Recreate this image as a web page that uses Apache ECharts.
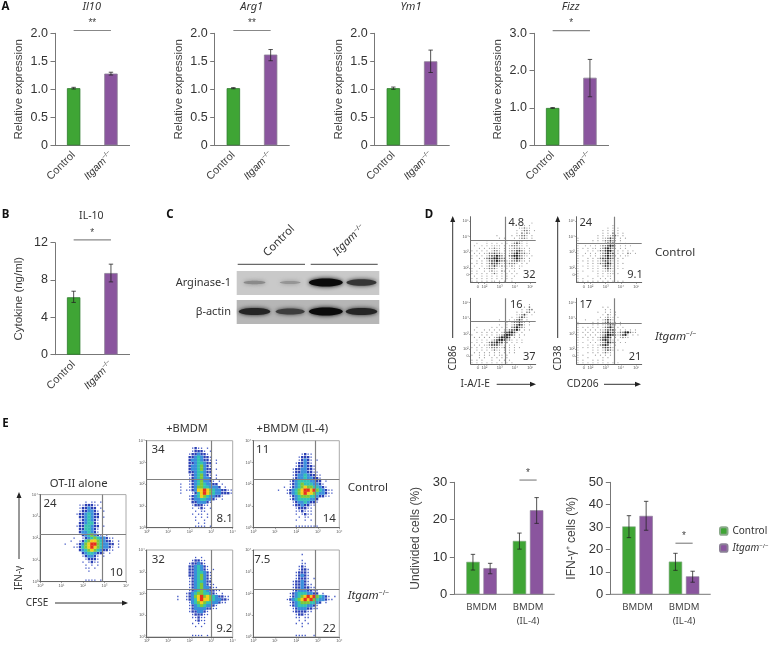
<!DOCTYPE html>
<html>
<head>
<meta charset="utf-8">
<style>
    html, body { margin: 0; padding: 0; background: #fff; }
    #main { width: 769px; height: 649px; }
</style>
<script src="https://cdn.jsdelivr.net/npm/echarts@6/dist/echarts.min.js"></script>
</head>
<body>
<div id="main"></div>
<script>
    // bar panels: value, low whisker, high whisker for Control / Itgam-/-
    var cats = ['Control', 'Itgam']
    var il10Values = [1.02, 1.28], il10Low = [1.005, 1.255], il10High = [1.035, 1.305]
    var arg1Values = [1.02, 1.62], arg1Low = [1.01, 1.51], arg1High = [1.03, 1.71]
    var ym1Values = [1.02, 1.5], ym1Low = [1.0, 1.3], ym1High = [1.04, 1.7]
    var fizzValues = [1.0, 1.81], fizzLow = [0.99, 1.3], fizzHigh = [1.01, 2.3]
    var il10CytValues = [6.15, 8.75], il10CytLow = [5.6, 7.8], il10CytHigh = [6.8, 9.7]

    var groupCats = ['BMDM', 'BMDM\n(IL-4)']
    var undivControl = [8.7, 14.3], undivControlLow = [6.5, 12.1], undivControlHigh = [10.7, 16.4]
    var undivItgam = [7.0, 22.5], undivItgamLow = [5.5, 19.0], undivItgamHigh = [8.3, 25.9]
    var ifnControl = [30.3, 14.6], ifnControlLow = [25.3, 10.7], ifnControlHigh = [35.1, 18.3]
    var ifnItgam = [35.0, 8.0], ifnItgamLow = [28.6, 5.4], ifnItgamHigh = [41.5, 10.3]

    // western blot band strength per lane
    var blotLanes = ['c1', 'c2', 'k1', 'k2']
    var arginaseLevels = [0.25, 0.18, 1, 0.75]
    var actinLevels = [0.85, 0.7, 1, 0.85]

    // panel D, dot density, one string per row from the top
    var cd86Control = ['', '', '........................1.', '...................1.1.1', '...................11211', '..................1.1221.1', '..................1.2121', '..........1.....1.11221.1',
        '...........1.1...1.1221.1', '......1.......1.11222.1', '..1...1.1.1.1.1.12321.1', '.1..1.1.1111.1.122211.1', '...1.1.11211.1.1122211.1', '1.1.1.1.1221.1.1223321.1', '.1.1.112232211.123432211', '1.1.1.12334321.23443211.1',
        '1..1.123344322.1234321.1', '..1.1.1233432211223211.1', '1.1.1.1233321112221.1.1', '.1..1.122321211121.11', '1..1.112221.1.1.11.1', '1.1..1.1211.21.1.1', '1.1.1.1.121.1.1.1.1', '.1..1.1.1.1.1.1..1', '1.1.1.1.1.1.1.1.1', '1.1.1.1.11.1.1..1']
    var cd38Control = ['', '', '', '..............1', '............1.1.1', '..........1.1.1.1', '..........1.1.2.1.1', '........1.1.11221.1',
        '1.......1.112321.1.1', '1.....1.1.122321.1', '1.....1.1.123331.1.1', '1..1.1.1.1223431.1.1.1', '1.1.1.11.1234321.1.1', '1...1.1.1223442.1.1.1.1', '1..1.1.1.123433.1.1.21.1', '1.1..1.1.1234321.1.11',
        '1...1.1.1233432.1.1', '1.1.1.1.1123321.1', '1...1.1.1223431.1.1', '1.1.1.1.1.23321.1', '1...1.1.1.12321.1.1', '1.1...1.1.11211', '1.......1.1.111.1', '1...1...1.1.11', '1.1...1..1.1.1', '1.1.1.1.1.1.1.1.1.1']
    var cd86Itgam = ['', '', '.......................1', '.....................1.2', '....................1.122', '..................1.1.22.1', '..................11231.1', '................1.12321',
        '...........1...1.1232.1', '..............1.122321.1', '...........1..1.123431.1', '..1.....1.1.1.1.234321', '.1...1.1.1.1.1123342.1.1', '..1.1.1.1.1.1234431.1', '1...1.1.1.11234432.1.1', '.1.1.1.1.1234443.1.1',
        '..1.1.1.123443221.1.1', '1.1.1.123343312.1.1.1', '.1.1.112333211.1.1', '1.1.1.11222112.1.1.1', '..1.1.1.1211.1.1.1', '.1.1.1.1.1.1.1.1.1', '1..1.1.1.1.11.1', '...1.1..1.1.1.1', '1.1.1...1..1.1.1', '1.1.1.1.1.1.1.1.1']
    var cd38Itgam = ['', '', '', '..........1.1', '...........1.1', '........1..1.1.1', '..........1.21.1', '.........1.1211.1',
        '...1....1.12321', '1.....1.1.123211.1', '1.....1.1.112321.1', '1.1.1.1.1.12342.1.1', '1..1.1.1.1123331.1.1.1.1', '1.1.1.1.1123433112244211', '1..1.1.1.123443212341.1.1', '1.1.1.1.123443.1.1211',
        '1...1.1.1234321.1', '1.1..1.1.1234321.1.1', '1...1.1.123431.1', '1.1.1.1.1.23321', '1.....1.1.12321.1.1', '1...1.1.1.1211', '1.1....1.1.1.1', '1...1.....1.1', '1.1...1.1.1', '1.1.1.1.1.1.1.1.1']

    // panel E, pseudocolor level, one string per row from the top
    var otAlone = ['', '', '...............1.11.1', '.............1122211', '.............122322.1', '.............1223321.1', '............12234322', '.............2234322.1',
        '.............1234321', '.............2234421', '............12244322.1', '.............2244321', '.............2334321', '..............2345321.1', '...........1..12345433211', '..........1..124566543221.1',
        '........1...1235677543322.1', '...........11245676543321.1', '.............234565432211', '..............23443221.1', '..............123321.1', '...............12221', '..............1.1211', '...............1.1.1',
        '...............11.1', '................1', '', '', '...............1111.1']
    var bmdmControl = ['', '', '...............1211.1', '...............12221.1', '..............1223221', '..............22343221', '..............23343221.1', '..............22344322.1',
        '..............23345321', '..............23345322.1', '..............22344322', '..............12345321.1', '..............12345332.1', '..............123453321.1', '...........1..1234543322.1', '...........1..12355443332.1',
        '...........1.1123667654332211', '...........1...12467654332221', '..............123465433221', '..............1233443321.1', '...............2233321', '...............122211', '...............1.121.1', '................1.11',
        '...............1.11.1', '................1.1.1', '................1..1', '.................1.1', '................1111.1']
    var il4Control = ['', '', '', '', '................1211', '...............12221', '...............12321.1', '..............122321',
        '..............1223221', '.............12233221', '.............122332211', '.............1233432211', '.............1233433221', '............12344443322.1', '............123454443321', '..........1.1234565544321',
        '........1..1234567767543211', '...........1234567665433211', '............12345554432211', '............1234444332', '.............123343221', '.............12232211', '..............122211', '..............112111',
        '..............1.1211', '...............1.11', '..............1..1.1', '', '..............11111111']
    var bmdmItgam = ['', '', '................1.1', '...............12211', '..............122321', '..............2234321', '..............2234321.1', '..............22344321',
        '..............22345321', '..............12345321', '..............12344322', '..............123453211', '..............1234533211', '..............12345432211', '.............12345544321.1', '..........1..123567565432211',
        '..........1..123467665433221', '..............1345654433211', '..............1234543321', '..............1233332211', '..............1223321', '...............122211', '...............11211', '................1211',
        '...............1.1.1', '................1.1', '', '', '...............1111.1']
    var il4Itgam = ['', '................1', '', '................1', '................11', '...............121', '...............1221', '..............12221',
        '..............12321', '..............12221.1', '.............122321', '.............1223211', '.............12232211', '.............123332211', '............1234443322.1', '............12345676754321.1',
        '...........1234567675433211', '............12345554432.1', '............1234443321', '.............123332211', '.............1222211', '..............12211', '..............11.11', '...............1.1',
        '..............1.1.1', '................1', '', '', '..............1111..1']

    var green = '#3fa535'
    var purple = '#8a559e'
    var axisColor = '#777'
    var chartFont = '"Liberation Sans", Arial, sans-serif'
    var noteFont = '"Noto Sans", sans-serif'

    var grids = [], xAxes = [], yAxes = [], seriesList = [], elements = []

    function itgamRich (size, font) {
        return {
            i: {fontStyle: 'italic', fontSize: size, fontFamily: font || noteFont, fill: '#333', color: '#333'},
            s: {fontSize: size * 0.6, fontFamily: font || noteFont, verticalAlign: 'top', fill: '#333', color: '#333'}
        }
    }

    function errorItem (dodge) {
        return function (params, api) {
            var x = api.value(0)
            var lo = api.coord([x, api.value(1)])
            var hi = api.coord([x, api.value(2)])
            var cx = lo[0] + dodge
            var stroke = {stroke: 'rgba(35,35,35,0.78)', lineWidth: 1}
            return {
                type: 'group',
                children: [
                    {type: 'line', shape: {x1: cx, y1: lo[1], x2: cx, y2: hi[1]}, style: stroke},
                    {type: 'line', shape: {x1: cx - 2.2, y1: lo[1], x2: cx + 2.2, y2: lo[1]}, style: stroke},
                    {type: 'line', shape: {x1: cx - 2.2, y1: hi[1], x2: cx + 2.2, y2: hi[1]}, style: stroke}
                ]
            }
        }
    }

    function sigItem (dodgeA, dodgeB, stars) {
        return function (params, api) {
            var a = api.coord([api.value(0), api.value(2)])
            var b = api.coord([api.value(1), api.value(2)])
            return {
                type: 'group',
                children: [
                    {type: 'line', shape: {x1: a[0] + dodgeA, y1: a[1], x2: b[0] + dodgeB, y2: a[1]}, style: {stroke: '#888', lineWidth: 1.2}},
                    {type: 'text', x: (a[0] + dodgeA + b[0] + dodgeB) / 2, y: a[1] - 7, style: {text: stars, textAlign: 'center', textVerticalAlign: 'middle', font: '10px ' + chartFont, fill: '#444'}}
                ]
            }
        }
    }

    function addCustom (idx, renderItem, data, enc) {
        seriesList.push({
            type: 'custom', xAxisIndex: idx, yAxisIndex: idx, renderItem: renderItem, data: data, encode: enc, silent: true, z: 5
        })
    }

    function whiskers (low, high) {
        return low.map(function (v, i) { return [i, v, high[i]] })
    }

    function addAxes (o) {
        var idx = grids.length
        grids.push({left: o.left, top: o.top, width: o.width, height: o.height})
        xAxes.push({
            type: 'category', gridIndex: idx, data: o.cats,
            axisLine: {show: o.xLine !== false, lineStyle: {color: axisColor, width: 1}},
            axisTick: {alignWithLabel: true, length: 2.5, lineStyle: {color: axisColor}},
            axisLabel: o.xLabel
        })
        yAxes.push({
            type: 'value', gridIndex: idx, min: 0, max: o.max, interval: o.interval, offset: o.offset || 0,
            name: o.name, nameLocation: 'middle', nameGap: o.nameGap,
            nameTextStyle: {fontFamily: chartFont, fontSize: o.nameSize, color: '#444'},
            splitLine: {show: false},
            axisLine: {show: true, lineStyle: {color: axisColor, width: 1}},
            axisTick: {show: true, length: 4.5, lineStyle: {color: axisColor}},
            axisLabel: {fontFamily: chartFont, fontSize: o.tickSize, color: '#333', margin: 7, formatter: o.tickFormat}
        })
        return idx
    }

    // one expression panel, Control next to Itgam-/-
    function addPairPanel (o) {
        var idx = addAxes({
            left: o.left, top: o.top, width: 74.6, height: 112, cats: cats, max: o.max, interval: o.interval,
            name: o.name, nameGap: 30, nameSize: 11.5, tickSize: 12.5, tickFormat: o.tickFormat,
            xLabel: {
                rotate: 45, margin: 8, interval: 0, fontFamily: chartFont, fontSize: 11, color: '#444',
                formatter: function (v) { return v === 'Itgam' ? '{i|Itgam}{s|\u2212/\u2212}' : v },
                rich: itgamRich(10.5, chartFont)
            }
        })
        seriesList.push({
            type: 'bar', xAxisIndex: idx, yAxisIndex: idx, barWidth: 13.4, silent: true,
            data: [
                {value: o.values[0], itemStyle: {color: green, borderColor: '#2b7b2b', borderWidth: 0.8}},
                {value: o.values[1], itemStyle: {color: purple, borderColor: '#8b8096', borderWidth: 0.8}}
            ]
        })
        addCustom(idx, errorItem(0), whiskers(o.low, o.high), {x: 0, y: [1, 2]})
        addCustom(idx, sigItem(0, 0, o.stars), [[0, 1, o.sigAt]], {x: [0, 1], y: 2})
    }

    function addGroupPanel (o) {
        var idx = addAxes({
            left: o.left, top: 482.3, width: 93, height: 112, cats: groupCats, max: o.max, interval: o.interval,
            name: o.name, nameGap: o.nameGap, nameSize: 12, tickSize: 13, offset: 4, xLine: false,
            xLabel: {interval: 0, margin: 6, fontFamily: noteFont, fontSize: 9.6, color: '#444', lineHeight: 14}
        })
        seriesList.push({
            type: 'bar', name: 'Control', xAxisIndex: idx, yAxisIndex: idx, barWidth: 13.4, barGap: '28%', silent: true,
            itemStyle: {color: green, borderColor: '#8aa98a', borderWidth: 0.6}, data: o.control
        })
        seriesList.push({
            type: 'bar', name: 'Itgam', xAxisIndex: idx, yAxisIndex: idx, barWidth: 13.4, barGap: '28%', silent: true,
            itemStyle: {color: purple, borderColor: '#8b8096', borderWidth: 0.6}, data: o.itgam
        })
        addCustom(idx, errorItem(-8.6), whiskers(o.controlLow, o.controlHigh), {x: 0, y: [1, 2]})
        addCustom(idx, errorItem(8.6), whiskers(o.itgamLow, o.itgamHigh), {x: 0, y: [1, 2]})
        addCustom(idx, sigItem(-8.6, 8.6, '*'), [[1, 1, o.sigAt]], {x: [0, 1], y: 2})
        line(o.left - 4, 594.3, o.left + 96.4, 594.3, axisColor, 1)
    }

    var supers = {0: '\u2070', 1: '\u00b9', 2: '\u00b2', 3: '\u00b3', 4: '\u2074', 5: '\u2075'}

    function tenLabel (v) {
        return v < 1.9 && v > 1 ? '0' : '10' + supers[Math.round(v)]
    }

    // level -> look of a density cell
    var dotGrays = ['', '#9a9a9a', '#6e6e6e', '#444', '#222']
    var dotSizes = [0, 1.2, 1.6, 1.9, 2.3]
    var heatColors = ['', '#3f55c4', '#2a3fb4', '#3a8edc', '#33c2b2', '#7cc93c', '#f2cf1e', '#e6301c']
    var heatSizes = [0, 1.3, 2.4, 3.3, 3.3, 3.3, 3.3, 3.3]

    function addFlowPanel (o) {
        var idx = grids.length
        var cols = o.cols
        var rows = o.rows.length
        var data = []
        o.rows.forEach(function (row, r) {
            for (var c = 0; c < row.length; c++) {
                var lv = parseInt(row.charAt(c))
                if (!lv) continue
                data.push([
                    o.xMin + (c + 0.5) / cols * (o.xMax - o.xMin),
                    o.yMax - (r + 0.5) / rows * (o.yMax - o.yMin),
                    lv
                ])
            }
        })
        data.sort(function (a, b) { return a[2] - b[2] })
        grids.push({
            left: o.left, top: o.top, width: o.width, height: o.height,
            show: !!o.frame, borderColor: '#aaa', borderWidth: 1, backgroundColor: 'transparent'
        })
        xAxes.push(flowAxis('x', idx, o.xMin, o.xMax, o.ticks))
        yAxes.push(flowAxis('y', idx, o.yMin, o.yMax, o.ticks))
        seriesList.push({
            type: 'scatter', xAxisIndex: idx, yAxisIndex: idx, data: data, silent: true,
            symbol: o.frame ? 'rect' : 'circle',
            symbolSize: function (v) { return (o.frame ? heatSizes : dotSizes)[v[2]] },
            itemStyle: {
                opacity: 1,
                color: function (p) { return (o.frame ? heatColors : dotGrays)[p.value[2]] }
            },
            markLine: {
                silent: true, symbol: 'none', label: {show: false}, animation: false,
                lineStyle: {color: '#808080', width: 1.2, type: 'solid'},
                data: [{xAxis: o.gateX}, {yAxis: o.gateY}]
            }
        })
    }

    function flowAxis (dir, idx, min, max, ticks) {
        return {
            type: 'value', gridIndex: idx, min: min, max: max,
            splitLine: {show: false},
            axisLine: {show: true, onZero: false, lineStyle: {color: '#666', width: 1}},
            axisTick: {show: true, length: 1.5, customValues: ticks, lineStyle: {color: '#666', width: 0.6}},
            axisLabel: {show: true, customValues: ticks, margin: 2, fontSize: 4, color: '#555', fontFamily: chartFont, formatter: tenLabel, showMinLabel: true, showMaxLabel: true}
        }
    }

    function text (x, y, str, size, extra) {
        var e = extra || {}
        elements.push({
            type: 'text', x: x, y: y, rotation: e.rotation || 0, silent: true,
            style: {
                text: str, textAlign: e.align || 'center', textVerticalAlign: 'middle',
                fontFamily: e.font || noteFont, fontSize: size, fontWeight: e.weight || 'normal', fontStyle: e.italic ? 'italic' : 'normal',
                fill: e.fill || '#333', rich: e.rich
            }
        })
    }

    function line (x1, y1, x2, y2, color, width) {
        elements.push({type: 'line', silent: true, shape: {x1: x1, y1: y1, x2: x2, y2: y2}, style: {stroke: color, lineWidth: width}})
    }

    function arrow (x1, y1, x2, y2) {
        line(x1, y1, x2, y2, '#333', 1)
        var up = x1 === x2
        var pts = up ? [[x2, y2 - 2], [x2 - 2.5, y2 + 4], [x2 + 2.5, y2 + 4]] : [[x2 + 2, y2], [x2 - 4, y2 - 2.5], [x2 - 4, y2 + 2.5]]
        elements.push({type: 'polygon', silent: true, shape: {points: pts}, style: {fill: '#222'}})
    }

    function decimals (v) { return v === 0 ? '0' : v.toFixed(1) }
    function whole (v) { return String(v) }

    // panel A
    addPairPanel({left: 55, top: 33.3, max: 2, interval: 0.5, name: 'Relative expression', tickFormat: decimals, values: il10Values, low: il10Low, high: il10High, stars: '**', sigAt: 2.05})
    addPairPanel({left: 214.7, top: 33.3, max: 2, interval: 0.5, name: 'Relative expression', tickFormat: decimals, values: arg1Values, low: arg1Low, high: arg1High, stars: '**', sigAt: 2.05})
    addPairPanel({left: 374.7, top: 33.3, max: 2, interval: 0.5, name: 'Relative expression', tickFormat: decimals, values: ym1Values, low: ym1Low, high: ym1High, stars: '', sigAt: 5})
    addPairPanel({left: 534, top: 33.3, max: 3, interval: 1, name: 'Relative expression', tickFormat: decimals, values: fizzValues, low: fizzLow, high: fizzHigh, stars: '*', sigAt: 3.07})
    // panel B
    addPairPanel({left: 55, top: 242.7, max: 12, interval: 4, name: 'Cytokine (ng/ml)', tickFormat: whole, values: il10CytValues, low: il10CytLow, high: il10CytHigh, stars: '*', sigAt: 12.3})

    // panel E bars
    addGroupPanel({left: 458.3, max: 30, interval: 10, name: 'Undivided cells (%)', nameGap: 33, tickFormat: whole, control: undivControl, controlLow: undivControlLow, controlHigh: undivControlHigh, itgam: undivItgam, itgamLow: undivItgamLow, itgamHigh: undivItgamHigh, sigAt: 30.6})
    addGroupPanel({left: 614.3, max: 50, interval: 10, name: 'IFN-\u03b3\u207a cells (%)', nameGap: 33, tickFormat: whole, control: ifnControl, controlLow: ifnControlLow, controlHigh: ifnControlHigh, itgam: ifnItgam, itgamLow: ifnItgamLow, itgamHigh: ifnItgamHigh, sigAt: 22.8})

    // panel C
    function addBlot (top, levels, bg) {
        var idx = grids.length
        grids.push({left: 236.7, top: top, width: 142.6, height: 24, show: true, backgroundColor: bg, borderWidth: 0})
        xAxes.push({type: 'category', gridIndex: idx, data: blotLanes, show: false})
        yAxes.push({type: 'value', gridIndex: idx, min: 0, max: 1, show: false})
        seriesList.push({
            type: 'custom', xAxisIndex: idx, yAxisIndex: idx, clip: true, silent: true,
            data: levels.map(function (v, i) { return [i, 0.5, v] }),
            encode: {x: 0, y: 1},
            renderItem: function (params, api) {
                var p = api.coord([api.value(0), api.value(1)])
                var lv = api.value(2)
                var g = Math.round(180 - lv * 170)
                var c = 'rgb(' + g + ',' + g + ',' + g + ')'
                return {
                    type: 'ellipse',
                    shape: {cx: p[0], cy: p[1] - 0.5, rx: 9 + lv * 8, ry: 1 + lv * 3},
                    style: {fill: c, shadowBlur: 4, shadowColor: c}
                }
            }
        })
    }
    addBlot(271, arginaseLevels, '#c9c9c9')
    addBlot(300, actinLevels, '#b6b6b6')
    line(237.7, 264.3, 305, 264.3, '#444', 1)
    line(310.7, 264.3, 377.7, 264.3, '#444', 1)
    text(279, 241, 'Control', 11.2, {rotation: Math.PI / 4})
    text(349, 240, '{i|Itgam}{s|\u2212/\u2212}', 11, {rotation: Math.PI / 4, rich: itgamRich(11)})
    text(231, 283, 'Arginase-1', 11, {align: 'right'})
    text(231, 312, '\u03b2-actin', 11, {align: 'right'})

    // panel D
    var dTicks = [1.57, 2, 3, 4, 5]
    function addD (rows, left, top, gateX, gateY) {
        addFlowPanel({rows: rows, cols: 26, left: left, top: top, width: 65, height: 65.7, xMin: 1.1, xMax: 5.36, yMin: 1.06, yMax: 5.28, ticks: dTicks, gateX: gateX, gateY: gateY})
    }
    addD(cd86Control, 470.7, 216.7, 3.37, 3.76)
    addD(cd38Control, 576.7, 216.7, 3.55, 3.6)
    addD(cd86Itgam, 470.7, 298.3, 3.37, 3.8)
    addD(cd38Itgam, 576.7, 298.3, 3.55, 3.65)

    // panel E flow plots
    var eTicks = [0, 1, 2, 3, 4]
    function addE (rows, left, top, gateX, gateY) {
        addFlowPanel({rows: rows, cols: 29, frame: true, left: left, top: top, width: 86, height: 87, xMin: 0, xMax: 4, yMin: 0, yMax: 4, ticks: eTicks, gateX: gateX, gateY: gateY})
    }
    addE(otAlone, 40, 494.6, 2.88, 2.2)
    addE(bmdmControl, 146.7, 440.7, 2.98, 2.22)
    addE(il4Control, 253.3, 440.7, 2.88, 2.22)
    addE(bmdmItgam, 146.7, 550, 2.98, 2.2)
    addE(il4Itgam, 253.3, 550, 2.88, 2.2)

    // panel letters
    text(5.5, 7, 'A', 11.5, {weight: 'bold', fill: '#111'})
    text(5.5, 215, 'B', 11.5, {weight: 'bold', fill: '#111'})
    text(170, 215, 'C', 11.5, {weight: 'bold', fill: '#111'})
    text(429, 215, 'D', 11.5, {weight: 'bold', fill: '#111'})
    text(5.5, 424, 'E', 11.5, {weight: 'bold', fill: '#111'})

    // panel titles
    text(91.7, 7, 'Il10', 11, {italic: true})
    text(251.7, 7, 'Arg1', 11, {italic: true})
    text(411, 7, 'Ym1', 11, {italic: true})
    text(570.7, 7, 'Fizz', 11, {italic: true})
    text(91.3, 215.7, 'IL-10', 10.5)

    // panel D notes
    arrow(452.7, 338, 452.7, 218)
    arrow(557.7, 338, 557.7, 218)
    arrow(496.7, 384.3, 534, 384.3)
    arrow(604, 384.3, 639, 384.3)
    text(452.7, 358, 'CD86', 10, {rotation: Math.PI / 2})
    text(557.7, 358, 'CD38', 10, {rotation: Math.PI / 2})
    text(475.3, 384.3, 'I-A/I-E', 10.2)
    text(582.7, 384.3, 'CD206', 10.3)
    text(516.3, 223, '4.8', 11)
    text(529.3, 275, '32', 11)
    text(585.7, 223, '24', 11)
    text(635, 275, '9.1', 11)
    text(516.3, 304.7, '16', 11)
    text(529.3, 357.3, '37', 11)
    text(585.7, 304.7, '17', 11)
    text(635, 357.3, '21', 11)
    text(655, 252.7, 'Control', 11.6, {align: 'left'})
    text(655, 337, '{i|Itgam}{s|\u2212/\u2212}', 11.6, {align: 'left', rich: itgamRich(11.6)})

    // panel E notes
    text(78.7, 484, 'OT-II alone', 11.3)
    text(187, 429, '+BMDM', 11)
    text(292.3, 429, '+BMDM (IL-4)', 11.2)
    text(347.7, 487.3, 'Control', 11.6, {align: 'left'})
    text(347.7, 595.7, '{i|Itgam}{s|\u2212/\u2212}', 11.6, {align: 'left', rich: itgamRich(11.6)})
    arrow(19, 559, 19, 494)
    arrow(55, 603, 126, 603)
    text(19, 578, 'IFN-\u03b3', 10, {rotation: Math.PI / 2})
    text(37, 603, 'CFSE', 10)
    text(50, 504, '24', 11.5)
    text(116.3, 572.7, '10', 11.5)
    text(158, 450, '34', 11.5)
    text(224.7, 518.7, '8.1', 11.5)
    text(262.7, 450, '11', 11.5)
    text(329.3, 518.7, '14', 11.5)
    text(158.3, 559.7, '32', 11.5)
    text(224.3, 628.3, '9.2', 11.5)
    text(262.3, 559.7, '7.5', 11.5)
    text(329.3, 628.3, '22', 11.5)

    var chart = echarts.init(document.getElementById('main'), null, {renderer: 'canvas'})
    chart.setOption({
        animation: false,
        grid: grids,
        xAxis: xAxes,
        yAxis: yAxes,
        series: seriesList,
        legend: {
            data: ['Control', 'Itgam'], orient: 'vertical', left: 714, top: 521, padding: 5, itemWidth: 7.5, itemHeight: 7.5, itemGap: 7, selectedMode: false,
            textStyle: {fontFamily: noteFont, fontSize: 10, color: '#333', overflow: 'none', width: 45, rich: itgamRich(10)},
            formatter: function (name) { return name === 'Itgam' ? '{i|Itgam}{s|\u2212/\u2212}' : name }
        },
        graphic: {elements: elements}
    })
</script>
</body>
</html>
